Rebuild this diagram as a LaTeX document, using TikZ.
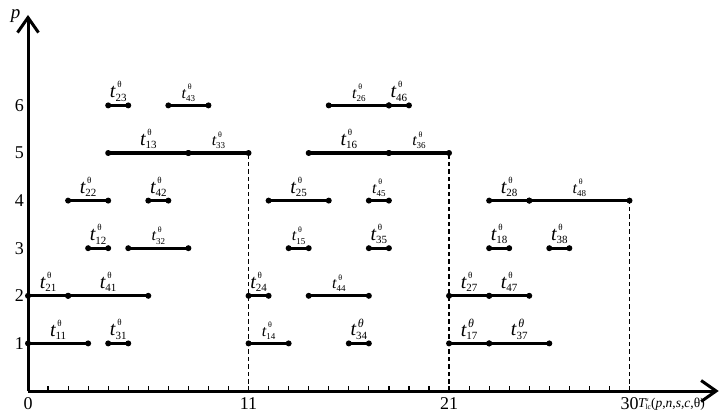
\documentclass[tikz,border=0pt]{standalone}
\usepackage{fontspec}
\setmainfont{Liberation Serif}
\usetikzlibrary{arrows.meta}
\newcommand\fs[1]{\fontsize{#1}{#1}\selectfont}
% #1 t size, #2 sub size, #3 sup size, #4 sub text, #5 sup text, #6 sup raise
\newcommand\tlabel[6]{{\fs{#1}\itshape t}\rlap{\hspace{1.8pt}\raisebox{#6}{\fs{#3}#5}}\raisebox{-3.2pt}{\fs{#2}#4}}
\newcommand\tB[1]{\tlabel{20}{11}{9}{#1}{θ}{10pt}}
\newcommand\tI[1]{\tlabel{20}{11}{12}{#1}{\itshape θ}{8.5pt}}
\newcommand\tS[1]{\tlabel{16}{9}{8}{#1}{θ}{8.5pt}}
\begin{document}
\begin{tikzpicture}[x=1pt,y=1pt]
\useasboundingbox (0,0) rectangle (722,413);
\begin{scope}[shift={(28,22)},x=20.05pt,y=47.6pt,
  seg/.style={line width=3.2pt},
  lab/.style={anchor=south,inner sep=0pt,yshift=2.5pt},
  guide/.style={line width=1.3pt,dash pattern=on 4.5pt off 3pt},
  axis/.style={line width=3pt,-{Straight Barb[length=15pt,width=21pt]}},
  num/.style={font=\fs{18},inner sep=0pt}]
% guides
\draw[guide] (11,0) -- (11,5);
\draw[guide] (21,0) -- (21,5);
\draw[guide] (30,0) -- (30,4);
% segments
\foreach \p/\a/\b/\l in {
  1/0/3/\tB{11}, 1/4/5/\tB{31}, 1/11/13/\tS{14}, 1/16/17/\tI{34}, 1/21/23/\tI{17}, 1/23/26/\tI{37},
  2/0/2/\tB{21}, 2/2/6/\tB{41}, 2/11/12/\tB{24}, 2/14/17/\tS{44}, 2/21/23/\tB{27}, 2/23/25/\tB{47},
  3/3/4/\tB{12}, 3/5/8/\tS{32}, 3/13/14/\tS{15}, 3/17/18/\tB{35}, 3/23/24/\tB{18}, 3/26/27/\tB{38},
  4/2/4/\tB{22}, 4/6/7/\tB{42}, 4/12/15/\tB{25}, 4/17/18/\tS{45}, 4/23/25/\tB{28}, 4/25/30/\tS{48},
  5/4/8/\tB{13}, 5/8/11/\tS{33}, 5/14/18/\tB{16}, 5/18/21/\tS{36},
  6/4/5/\tB{23}, 6/7/9/\tS{43}, 6/15/18/\tS{26}, 6/18/19/\tB{46}}{
  \draw[seg] (\a,\p) -- (\b,\p) node[midway,lab] (L\p-\a) {\l};
  \fill (\a,\p) circle (3pt);
  \fill (\b,\p) circle (3pt);
}
% axes
\coordinate (O) at (0,0);
\coordinate (ytop) at (0,7.9);
\coordinate (xend) at (34.45,0);
\draw[axis] (O) -- (ytop);
\draw[axis] (O) -- (xend);
\foreach \i in {1,...,30} \draw[line width=1.2pt] (\i,0) -- ++(0,5.5pt);
% tick labels
\foreach \v in {0,11,21,30} \node[num,anchor=base,yshift=-18.5pt] (xt\v) at (\v,0) {\v};
\foreach \v in {1,...,6} \node[num,anchor=east,xshift=-4pt] (yt\v) at (0,\v) {\v};
\node[font=\fs{19}\itshape,inner sep=0pt] (plab) at (-0.62,7.87) {p};
\node[font=\fs{13.5},inner sep=0pt,anchor=base west,yshift=-16pt] (xlab) at (30.42,0)
  {{\itshape T}\rlap{\raisebox{5.5pt}{\fs{6}\itshape u}}\raisebox{-2pt}{\fs{7.5}lc}(\textit{p},\textit{n},\textit{s},\textit{c},θ)};
\end{scope}
\end{tikzpicture}
\end{document}
